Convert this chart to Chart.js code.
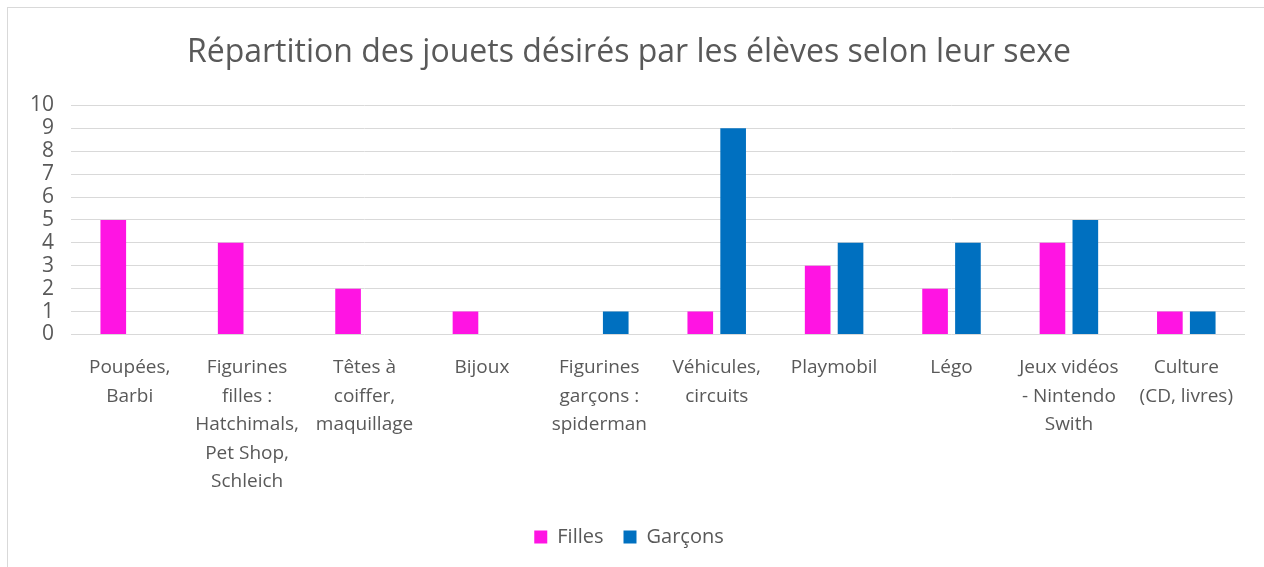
<!DOCTYPE html>
<html>
<head>
<meta charset="utf-8">
<script src="https://cdn.jsdelivr.net/npm/chart.js@4"></script>
<style>
  html, body { margin: 0; padding: 0; background: #fff; }
  #box { position: absolute; left: 7px; top: 7px; width: 1257px; height: 560px;
         border-left: 1px solid #d9d9d9; border-top: 1px solid #d9d9d9; }
  #box canvas { display: block; }
</style>
</head>
<body>
<div id="box"><canvas id="mycanvas" width="1256" height="559"></canvas></div>
<script>
// categories (multi-line labels as in the original)
var categories = [
  ["Poupées,", "Barbi"],
  ["Figurines", "filles :", "Hatchimals,", "Pet Shop,", "Schleich"],
  ["Têtes à", "coiffer,", "maquillage"],
  ["Bijoux"],
  ["Figurines", "garçons :", "spiderman"],
  ["Véhicules,", "circuits"],
  ["Playmobil"],
  ["Légo"],
  ["Jeux vidéos", "- Nintendo", "Swith"],
  ["Culture", "(CD, livres)"]
];
var filles  = [5, 4, 2, 1, 0, 1, 3, 2, 4, 1];
var garcons = [0, 0, 0, 0, 1, 9, 4, 4, 5, 1];
var yTicks  = [0, 1, 2, 3, 4, 5, 6, 7, 8, 9, 10];

var textColor = "#595959";
var ctx = document.getElementById("mycanvas");
var barGraph = new Chart(ctx, {
  type: 'bar',
  data: {
    labels: categories,
    datasets: [{
      label: "Filles",
      data: filles,
      backgroundColor: "#ff14e3",
      categoryPercentage: 0.56,
      barPercentage: 0.78
    }, {
      label: "Garçons",
      data: garcons,
      backgroundColor: "#0070c0",
      categoryPercentage: 0.56,
      barPercentage: 0.78
    }]
  },
  options: {
    responsive: false,
    animation: false,
    layout: { padding: { left: 5, right: 19, top: 0, bottom: 10 } },
    plugins: {
      title: {
        display: true,
        text: "Répartition des jouets désirés par les élèves selon leur sexe",
        color: textColor,
        font: { family: "Open Sans", size: 32, weight: 'normal' },
        padding: { top: 26, bottom: 33 }
      },
      legend: {
        position: 'bottom',
        labels: {
          color: textColor,
          font: { family: "Open Sans", size: 20 },
          boxWidth: 13, boxHeight: 13, padding: 20
        }
      },
      tooltip: { enabled: false }
    },
    scales: {
      x: {
        grid: { display: false },
        border: { display: false },
        ticks: {
          color: textColor,
          font: { family: "Open Sans", size: 19, lineHeight: 1.5 },
          maxRotation: 0, autoSkip: false, padding: 11
        }
      },
      y: {
        min: 0, max: 10,
        afterBuildTicks: function (axis) {
          axis.ticks = yTicks.map(function (v) { return { value: v }; });
        },
        grid: { color: "#d9d9d9", drawTicks: false },
        border: { display: false },
        ticks: {
          color: textColor,
          font: { family: "Open Sans", size: 21, lineHeight: 1 },
          autoSkip: false,
          padding: 17
        }
      }
    }
  }
});
</script>
</body>
</html>
